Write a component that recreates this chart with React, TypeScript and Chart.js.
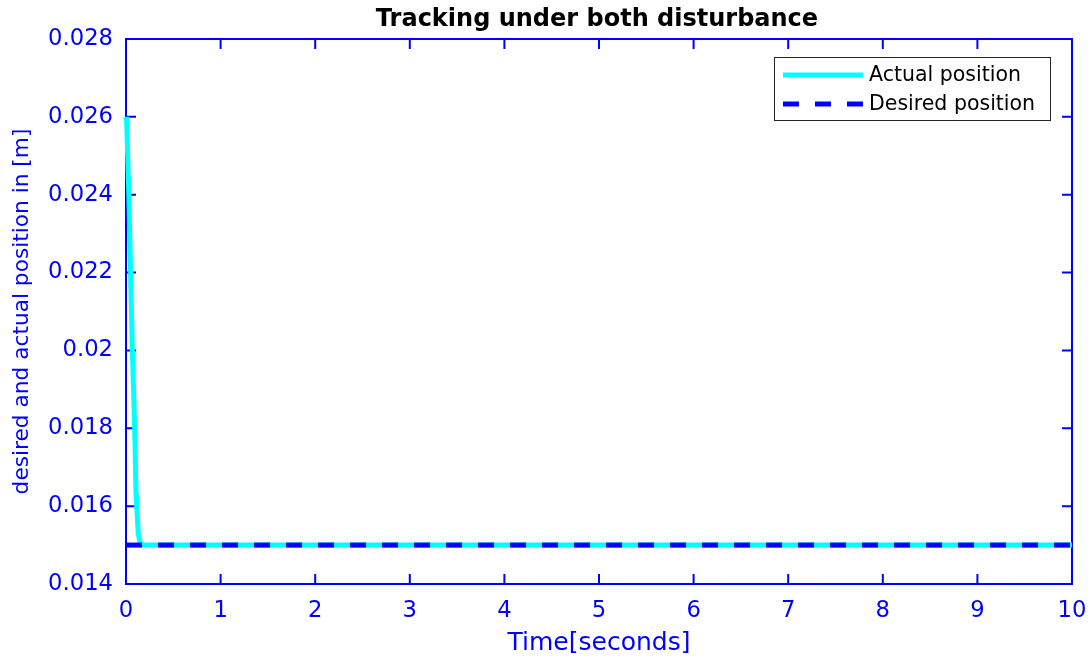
import React, { useEffect, useRef } from "react";
import { Chart, registerables } from "chart.js";

Chart.register(...registerables);

const chartTitle = "Tracking under both disturbance";
const xAxisTitle = "Time[seconds]";
const yAxisTitle = "desired and actual position in [m]";

const timeActual = [0, 0.007, 0.03, 0.049, 0.067, 0.08, 0.092, 0.106, 0.113, 0.13, 0.145, 0.165, 10];
const posActual = [0.026, 0.0259, 0.024, 0.022, 0.02, 0.019, 0.018, 0.0163, 0.016, 0.0153, 0.0151, 0.015, 0.015];

const timeDesired = [0, 10];
const posDesired = [0.015, 0.015];

const xTickValues = [0, 1, 2, 3, 4, 5, 6, 7, 8, 9, 10];
const yTickValues = [0.014, 0.016, 0.018, 0.02, 0.022, 0.024, 0.026, 0.028];
const yTickLabels = ["0.014", "0.016", "0.018", "0.02", "0.022", "0.024", "0.026", "0.028"];

const legendLabels = ["Actual position", "Desired position"];

const AXIS_BLUE = "#0000FF";
const CYAN = "#00FFFF";
const FONT = "'DejaVu Sans', sans-serif";

const boxPlugin = {
  id: "matlabBox",
  beforeDatasetsDraw(chart: any) {
    const { ctx, chartArea } = chart;
    const { left, right, top, bottom } = chartArea;
    const xs = chart.scales.x;
    const ys = chart.scales.y;
    ctx.save();
    ctx.strokeStyle = AXIS_BLUE;
    ctx.lineWidth = 2;
    ctx.strokeRect(left, top, right - left, bottom - top);
    const tl = 10;
    ctx.beginPath();
    xTickValues.forEach((v) => {
      const px = xs.getPixelForValue(v);
      ctx.moveTo(px, bottom);
      ctx.lineTo(px, bottom - tl);
      ctx.moveTo(px, top);
      ctx.lineTo(px, top + tl);
    });
    yTickValues.forEach((v) => {
      const py = ys.getPixelForValue(v);
      ctx.moveTo(left, py);
      ctx.lineTo(left + tl, py);
      ctx.moveTo(right, py);
      ctx.lineTo(right - tl, py);
    });
    ctx.stroke();
    ctx.restore();
  },
  afterDraw(chart: any) {
    const { ctx, chartArea } = chart;
    ctx.save();
    // title
    ctx.fillStyle = "#000000";
    ctx.font = `bold 24px ${FONT}`;
    ctx.textAlign = "center";
    ctx.textBaseline = "middle";
    ctx.fillText(chartTitle, (chartArea.left + chartArea.right) / 2 - 2, 20);
    // legend
    const bx = 774;
    const by = 57;
    const bw = 276;
    const bh = 63;
    ctx.fillStyle = "#FFFFFF";
    ctx.fillRect(bx, by, bw, bh);
    ctx.strokeStyle = "#262626";
    ctx.lineWidth = 1;
    ctx.strokeRect(bx + 0.5, by + 0.5, bw, bh);
    const rows = [
      { y: 75, color: CYAN, dash: [] as number[] },
      { y: 104, color: AXIS_BLUE, dash: [16, 16] },
    ];
    rows.forEach((r, i) => {
      ctx.beginPath();
      ctx.setLineDash(r.dash);
      ctx.strokeStyle = r.color;
      ctx.lineWidth = 5;
      ctx.moveTo(783, r.y);
      ctx.lineTo(863, r.y);
      ctx.stroke();
      ctx.setLineDash([]);
      ctx.fillStyle = "#000000";
      ctx.font = `20.5px ${FONT}`;
      ctx.textBaseline = "middle";
      ctx.textAlign = "left";
      ctx.fillText(legendLabels[i], 869, r.y + 1);
    });
    ctx.restore();
  },
};

export default function App() {
  const canvasRef = useRef<HTMLCanvasElement | null>(null);

  useEffect(() => {
    if (!canvasRef.current) return;
    Chart.defaults.font.family = FONT;
    const chart = new Chart(canvasRef.current, {
      type: "line",
      data: {
        datasets: [
          {
            label: legendLabels[0],
            data: timeActual.map((t, i) => ({ x: t, y: posActual[i] })),
            borderColor: CYAN,
            backgroundColor: CYAN,
            borderWidth: 5,
            pointRadius: 0,
            tension: 0,
            clip: false as any,
            order: 1,
          },
          {
            label: legendLabels[1],
            data: timeDesired.map((t, i) => ({ x: t, y: posDesired[i] })),
            borderColor: AXIS_BLUE,
            backgroundColor: AXIS_BLUE,
            borderWidth: 5,
            borderDash: [16, 16],
            pointRadius: 0,
            tension: 0,
            clip: false as any,
            order: 0,
          },
        ],
      },
      options: {
        animation: false,
        responsive: false,
        devicePixelRatio: 1,
        layout: { padding: { top: 39, right: 20, left: 0, bottom: 0 } },
        plugins: {
          legend: { display: false },
          tooltip: { enabled: false },
          title: { display: false },
        },
        scales: {
          x: {
            type: "linear",
            min: 0,
            max: 10,
            grid: { display: false, drawTicks: false },
            border: { display: false },
            ticks: {
              color: AXIS_BLUE,
              font: { family: FONT, size: 22.7 },
              padding: 13,
              maxRotation: 0,
              autoSkip: false,
              callback: (v: any) => String(v),
            },
            afterBuildTicks: (scale: any) => {
              scale.ticks = xTickValues.map((v) => ({ value: v }));
            },
            afterFit: (scale: any) => {
              scale.height = 75;
              scale.paddingLeft = 0;
              scale.paddingRight = 0;
            },
            title: {
              display: true,
              text: xAxisTitle,
              color: AXIS_BLUE,
              font: { family: FONT, size: 25 },
              padding: { top: 0, bottom: 1 },
            },
          },
          y: {
            type: "linear",
            min: 0.014,
            max: 0.028,
            grid: { display: false, drawTicks: false },
            border: { display: false },
            ticks: {
              color: AXIS_BLUE,
              font: { family: FONT, size: 22.7 },
              padding: 13,
              autoSkip: false,
              callback: (_v: any, i: number) => yTickLabels[i],
            },
            afterBuildTicks: (scale: any) => {
              scale.ticks = yTickValues.map((v) => ({ value: v }));
            },
            afterFit: (scale: any) => {
              scale.width = 126;
              scale.paddingTop = 0;
              scale.paddingBottom = 0;
            },
            title: {
              display: true,
              text: yAxisTitle,
              color: AXIS_BLUE,
              font: { family: FONT, size: 21.7 },
              padding: { top: 9, bottom: 0 },
            },
          },
        },
      },
      plugins: [boxPlugin],
    });
    return () => chart.destroy();
  }, []);

  return (
    <div style={{ position: "absolute", left: 0, top: 0, width: 1092, height: 659, background: "#FFFFFF" }}>
      <canvas ref={canvasRef} width={1092} height={659} style={{ display: "block" }} />
    </div>
  );
}
